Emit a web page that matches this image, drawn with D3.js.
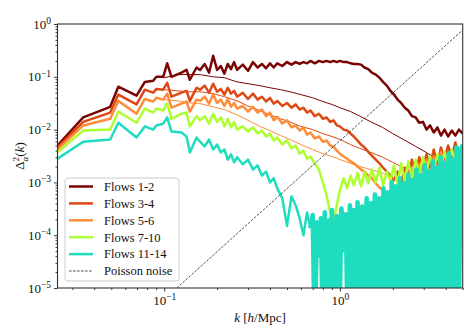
<!DOCTYPE html>
<html lang="en">
<head>
<meta charset="UTF-8">
<title>Flow power spectra</title>
<script src="https://d3js.org/d3.v7.min.js"></script>
<style>
  body { margin: 0; background: #fff; }
  svg { font-family: "Liberation Serif", "DejaVu Serif", serif; }
</style>
</head>
<body>
<div id="chart"></div>
<script>
// k grid shared by the thick (noisy) curves
const kGrid = [0.0247, 0.0346, 0.0493, 0.0548, 0.0696, 0.0776, 0.0866, 0.0903, 0.0987, 0.104, 0.110, 0.1255, 0.134, 0.140, 0.1528,
  0.16, 0.17, 0.18, 0.19, 0.20, 0.21, 0.22, 0.23, 0.24, 0.25, 0.26,
  0.28, 0.30, 0.32, 0.34, 0.36, 0.38, 0.40, 0.42, 0.44,
  0.47, 0.50, 0.53, 0.56, 0.59, 0.62, 0.65, 0.68,
  0.72, 0.76, 0.80, 0.84, 0.88, 0.92, 0.96, 1.00,
  1.05, 1.10, 1.15, 1.20,
  1.26, 1.32, 1.38, 1.45, 1.52, 1.60, 1.68, 1.76, 1.85, 1.94,
  2.03, 2.13, 2.23, 2.34, 2.45, 2.57, 2.70, 2.83, 2.97,
  3.11, 3.26, 3.42, 3.59, 3.76, 3.94, 4.13, 4.33, 4.54, 4.76, 5.00];

// k grid for the thin (smooth) curves
const kThin = [0.10, 0.12, 0.14, 0.16, 0.19, 0.22, 0.26, 0.30, 0.35, 0.40, 0.46, 0.52, 0.60, 0.70,
  0.80, 0.90, 1.0, 1.15, 1.3, 1.5, 1.75, 2.0, 2.3, 2.7, 3.1, 3.6, 4.2, 5.0];

// dense k values for the high-k tail of flows 11-14
const kTealTail = [0.70, 0.72, 0.74, 0.76, 0.78, 0.80, 0.82, 0.84, 0.86, 0.88, 0.90,
  0.93, 0.96, 0.99, 1.02, 1.05, 1.08, 1.11, 1.14, 1.17, 1.20, 1.23, 1.26,
  1.30, 1.34, 1.38, 1.42, 1.46, 1.50, 1.54, 1.58, 1.62,
  1.67, 1.72, 1.77, 1.82, 1.87, 1.92, 1.97, 2.02,
  2.08, 2.14, 2.20, 2.26, 2.32, 2.38, 2.45, 2.52, 2.59, 2.66, 2.73, 2.80,
  2.88, 2.96, 3.04, 3.12, 3.20, 3.29, 3.38, 3.47, 3.56, 3.65,
  3.75, 3.85, 3.95, 4.05, 4.16, 4.27, 4.38, 4.50, 4.62, 4.74, 4.87, 5.00];

const flows12 = [5.0e-3, 1.7e-2, 2.7e-2, 6.5e-2, 4.4e-2, 8.0e-2, 8.4e-2, 1.0e-1, 1.0e-1, 1.8e-1, 1.0e-1, 1.2e-1, 1.35e-1, 8.8e-2, 1.5e-1,
  1.35e-1, 1.75e-1, 1.2e-1, 2.5e-1, 1.35e-1, 1.6e-1, 1.15e-1, 1.75e-1, 1.4e-1, 1.9e-1, 1.35e-1,
  1.7e-1, 1.3e-1, 1.9e-1, 1.5e-1, 1.75e-1, 1.45e-1, 1.8e-1, 1.5e-1, 1.8e-1,
  1.6e-1, 1.9e-1, 1.7e-1, 1.9e-1, 1.75e-1, 1.9e-1, 1.8e-1, 2.0e-1,
  1.8e-1, 2.0e-1, 1.9e-1, 2.0e-1, 1.9e-1, 2.0e-1, 1.9e-1, 2.0e-1,
  1.9e-1, 1.9e-1, 1.8e-1, 1.75e-1,
  1.75e-1, 1.7e-1, 1.5e-1, 1.4e-1, 1.2e-1, 1.1e-1, 9.6e-2, 8.0e-2, 6.8e-2, 5.4e-2,
  4.6e-2, 3.7e-2, 3.2e-2, 2.6e-2, 2.3e-2, 1.8e-2, 1.7e-2, 1.35e-2, 1.4e-2,
  1.0e-2, 1.2e-2, 8.8e-3, 1.1e-2, 7.7e-3, 1.0e-2, 7.4e-3, 9.6e-3, 7.7e-3, 1.0e-2, 8.4e-3];

const flows12Thin = [9.6e-2, 1.1e-1, 1.1e-1, 1.1e-1, 1.0e-1, 9.6e-2, 8.0e-2, 7.4e-2, 6.8e-2, 6.2e-2, 5.7e-2, 5.2e-2, 4.6e-2, 4.0e-2,
  3.4e-2, 3.0e-2, 2.6e-2, 2.2e-2, 1.8e-2, 1.4e-2, 1.1e-2, 8.4e-3, 6.5e-3, 4.8e-3, 3.7e-3, 2.7e-3, 2.1e-3, 1.6e-3];

const flows34 = [4.6e-3, 1.4e-2, 2.1e-2, 4.6e-2, 3.0e-2, 5.7e-2, 5.0e-2, 5.9e-2, 5.7e-2, 7.7e-2, 4.2e-2, 5.0e-2, 5.4e-2, 3.5e-2, 6.2e-2,
  5.7e-2, 6.8e-2, 5.0e-2, 7.4e-2, 5.2e-2, 5.9e-2, 4.6e-2, 6.2e-2, 4.8e-2, 5.4e-2, 4.2e-2,
  5.0e-2, 3.8e-2, 4.8e-2, 3.7e-2, 4.2e-2, 3.4e-2, 4.0e-2, 3.1e-2, 3.5e-2,
  2.8e-2, 3.2e-2, 2.6e-2, 3.0e-2, 2.4e-2, 2.6e-2, 2.1e-2, 2.3e-2,
  1.8e-2, 2.0e-2, 1.6e-2, 1.7e-2, 1.4e-2, 1.5e-2, 1.2e-2, 1.15e-2,
  1.0e-2, 9.6e-3, 8.4e-3, 7.4e-3,
  6.2e-3, 5.2e-3, 4.6e-3, 3.8e-3, 3.2e-3, 2.7e-3, 2.3e-3, 1.9e-3, 1.6e-3, 1.35e-3,
  1.1e-3, 1.6e-3, 9.2e-4, 1.9e-3, 1.2e-3, 2.7e-3, 1.4e-3, 3.0e-3, 1.75e-3,
  3.4e-3, 1.9e-3, 4.2e-3, 2.2e-3, 4.6e-3, 2.7e-3, 5.0e-3, 3.0e-3, 5.7e-3, 3.2e-3, 5.2e-3];

const flows34Thin = [5.7e-2, 5.4e-2, 5.2e-2, 5.2e-2, 4.8e-2, 4.2e-2, 3.5e-2, 2.8e-2, 2.3e-2, 1.9e-2, 1.6e-2, 1.4e-2, 1.15e-2, 1.0e-2,
  8.4e-3, 7.4e-3, 6.5e-3, 5.2e-3, 4.4e-3, 3.7e-3, 3.0e-3, 2.4e-3, 1.9e-3, 1.5e-3, 1.2e-3, 8.8e-4, 6.8e-4, 5.0e-4];

const flows56 = [4.2e-3, 1.2e-2, 1.6e-2, 3.5e-2, 2.0e-2, 3.8e-2, 3.4e-2, 4.0e-2, 3.7e-2, 4.8e-2, 2.6e-2, 3.1e-2, 3.4e-2, 2.2e-2, 3.7e-2,
  3.5e-2, 4.2e-2, 3.1e-2, 4.6e-2, 3.2e-2, 3.7e-2, 2.8e-2, 3.8e-2, 2.7e-2, 3.2e-2, 2.5e-2,
  2.8e-2, 2.2e-2, 2.7e-2, 2.1e-2, 2.4e-2, 1.8e-2, 2.1e-2, 1.5e-2, 1.75e-2,
  1.3e-2, 1.5e-2, 1.1e-2, 1.2e-2, 9.6e-3, 1.1e-2, 8.0e-3, 8.8e-3,
  6.8e-3, 7.4e-3, 5.9e-3, 6.2e-3, 5.0e-3, 4.8e-3, 4.0e-3, 3.5e-3,
  3.1e-3, 2.8e-3, 2.5e-3, 2.3e-3,
  2.0e-3, 1.75e-3, 1.6e-3, 1.35e-3, 1.2e-3, 9.6e-4, 8.0e-4, 7.1e-4, 5.9e-4, 5.2e-4,
  4.6e-4, 8.4e-4, 3.7e-4, 1.2e-3, 5.4e-4, 1.75e-3, 7.1e-4, 2.2e-3, 8.8e-4,
  2.7e-3, 1.0e-3, 3.1e-3, 1.4e-3, 3.8e-3, 1.75e-3, 3.4e-3, 1.9e-3, 4.2e-3, 2.4e-3, 3.8e-3];

const flows56Thin = [3.7e-2, 3.5e-2, 3.2e-2, 3.1e-2, 2.7e-2, 2.4e-2, 1.9e-2, 1.5e-2, 1.15e-2, 9.6e-3, 7.7e-3, 6.5e-3, 5.2e-3, 4.2e-3,
  3.5e-3, 3.1e-3, 2.7e-3, 2.3e-3, 2.0e-3, 1.75e-3, 1.5e-3, 1.2e-3, 9.6e-4, 7.7e-4, 6.2e-4, 5.0e-4, 3.8e-4, 3.0e-4];

const flows710 = [3.7e-3, 9.6e-3, 1.0e-2, 2.2e-2, 1.35e-2, 2.5e-2, 2.1e-2, 2.5e-2, 2.3e-2, 3.1e-2, 1.6e-2, 2.0e-2, 2.1e-2, 1.15e-2, 1.8e-2,
  1.5e-2, 1.8e-2, 1.3e-2, 2.0e-2, 1.4e-2, 1.7e-2, 1.15e-2, 1.6e-2, 1.1e-2, 1.4e-2, 1.0e-2,
  1.15e-2, 9.2e-3, 1.1e-2, 8.4e-3, 9.6e-3, 7.4e-3, 8.4e-3, 6.2e-3, 7.1e-3,
  5.2e-3, 6.2e-3, 4.4e-3, 5.0e-3, 3.5e-3, 4.0e-3, 2.8e-3, 3.1e-3,
  2.3e-3, 1.75e-3, 1.0e-3, 5.7e-4, 2.7e-4, 1.75e-4, 3.7e-4, 7.1e-4,
  1.2e-3, 7.7e-4, 1.35e-3, 8.8e-4,
  1.5e-3, 8.4e-4, 1.6e-3, 9.6e-4, 1.75e-3, 1.0e-3, 1.9e-3, 8.8e-4, 1.6e-3, 1.1e-3,
  2.1e-3, 9.2e-4, 2.3e-3, 1.1e-3, 2.5e-3, 1.2e-3, 2.7e-3, 1.4e-3, 3.0e-3,
  1.6e-3, 3.1e-3, 1.75e-3, 3.4e-3, 1.9e-3, 3.8e-3, 2.1e-3, 4.2e-3, 2.5e-3, 4.6e-3, 3.0e-3];

// first 43 values sit on kGrid (up to k = 0.68), the rest on kTealTail
const flows1114 = [2.8e-3, 5.9e-3, 6.5e-3, 1.35e-2, 7.1e-3, 1.15e-2, 1.0e-2, 1.2e-2, 1.3e-2, 1.7e-2, 9.2e-3, 8.8e-3, 7.4e-3, 3.7e-3, 7.1e-3,
  5.9e-3, 4.8e-3, 6.5e-3, 4.2e-3, 5.2e-3, 3.7e-3, 4.2e-3, 2.7e-3, 3.4e-3, 2.4e-3, 3.0e-3,
  2.2e-3, 2.7e-3, 1.75e-3, 2.1e-3, 1.35e-3, 1.6e-3, 1.0e-3, 1.2e-3, 7.7e-4,
  5.0e-4, 1.5e-4, 5.4e-4, 3.7e-4, 2.1e-4, 1.0e-4, 2.7e-4, 1.35e-4,
  2.4e-4, 1e-6, 1.75e-4, 4.2e-5, 2.1e-4, 1e-6, 2.7e-4, 1e-6, 1.9e-4, 1e-6, 3.0e-4,
  1e-6, 2.3e-4, 1e-6, 3.2e-4, 5.2e-5, 2.5e-4, 1e-6, 3.7e-4, 1e-6, 3.0e-4, 1e-6, 4.2e-4,
  1e-6, 3.5e-4, 1e-6, 5.0e-4, 1e-6, 4.0e-4, 1e-6, 5.9e-4, 1e-6,
  5.0e-4, 1e-6, 7.7e-4, 1e-6, 6.5e-4, 1e-6, 1.0e-3, 1e-6,
  8.4e-4, 1e-6, 1.2e-3, 1e-6, 9.6e-4, 1e-6, 1.4e-3, 1e-6, 1.1e-3, 1e-6, 1.75e-3, 1e-6,
  1.35e-3, 1e-6, 2.1e-3, 1e-6, 1.6e-3,
  1e-6, 2.5e-3, 1e-6, 1.9e-3, 1e-6,
  3.0e-3, 1e-6, 2.3e-3, 1e-6, 3.5e-3, 1e-6, 2.7e-3,
  1e-6, 4.6e-3, 1e-6, 3.8e-3, 5.2e-3];

const poissonK = [0.118, 5.0];
const poissonV = [1e-5, 0.77];

const legendLabels = ["Flows 1-2", "Flows 3-4", "Flows 5-6", "Flows 7-10", "Flows 11-14", "Poisson noise"];
const colors = ["#7a0403", "#dd4814", "#fe8c38", "#adff2f", "#1edcbe"];
const yTickExp = [0, -1, -2, -3, -4, -5];
const xTickExp = [-1, 0];

// layout
const width = 471, height = 325;
const plotLeft = 57.5, plotRight = 462.7, plotTop = 24, plotBottom = 288;

const svg = d3.select("#chart").append("svg")
    .attr("width", width)
    .attr("height", height);

const x = d3.scaleLog().domain([0.0247, 5]).range([plotLeft, plotRight]);
const y = d3.scaleLog().domain([1e-5, 1]).range([plotBottom, plotTop]);

svg.append("clipPath").attr("id", "plotclip")
  .append("rect")
    .attr("x", plotLeft).attr("y", plotTop)
    .attr("width", plotRight - plotLeft).attr("height", plotBottom - plotTop);

const plot = svg.append("g").attr("clip-path", "url(#plotclip)");

const line = d3.line().x(d => x(d[0])).y(d => y(d[1]));

function drawLine(ks, vs, color, w) {
    plot.append("path")
        .datum(ks.map((k, i) => [k, vs[i]]))
        .attr("fill", "none")
        .attr("stroke", color)
        .attr("stroke-width", w)
        .attr("stroke-linejoin", "round")
        .attr("d", line);
}

drawLine(kGrid, flows12, colors[0], 2.5);
drawLine(kThin, flows12Thin, colors[0], 1);
drawLine(kGrid, flows34, colors[1], 2.5);
drawLine(kThin, flows34Thin, colors[1], 1);
drawLine(kGrid, flows56, colors[2], 2.5);
drawLine(kThin, flows56Thin, colors[2], 1);
drawLine(kGrid, flows710, colors[3], 2.5);

// flows 11-14: the dense, spiky high-k part is stroked wider so it reads as a solid band
const kTeal = kGrid.slice(0, 43).concat(kTealTail);
drawLine(kTeal.slice(0, 43), flows1114.slice(0, 43), colors[4], 2.5);
drawLine(kTeal.slice(42), flows1114.slice(42), colors[4], 4.6);

// Poisson noise
plot.append("path")
    .datum(poissonK.map((k, i) => [k, poissonV[i]]))
    .attr("fill", "none")
    .attr("stroke", "#222")
    .attr("stroke-width", 0.8)
    .attr("stroke-dasharray", "2.6,1.4")
    .attr("d", line);

// axes
function supLabel(sel, exp) {
    sel.text(null);
    sel.append("tspan").text("10");
    sel.append("tspan")
        .attr("dy", "-0.5em")
        .attr("font-size", "9.5px")
        .text(exp < 0 ? "\u2212" + (-exp) : exp);
}

const yAxis = svg.append("g")
    .attr("transform", `translate(${plotLeft},0)`)
    .call(d3.axisLeft(y).tickValues(yTickExp.map(e => Math.pow(10, e))).tickSize(3.5).tickPadding(3));
yAxis.selectAll(".tick text").each(function(d, i) {
    supLabel(d3.select(this), yTickExp[i]);
});

const yMinor = y.ticks().filter(v => Math.abs(Math.log10(v) - Math.round(Math.log10(v))) > 1e-6);
svg.append("g")
    .attr("transform", `translate(${plotLeft},0)`)
    .call(d3.axisLeft(y).tickValues(yMinor).tickSize(2).tickFormat(""));

const xAxis = svg.append("g")
    .attr("transform", `translate(0,${plotBottom})`)
    .call(d3.axisBottom(x).tickValues(xTickExp.map(e => Math.pow(10, e))).tickSize(3.5).tickPadding(4));
xAxis.selectAll(".tick text").each(function(d, i) {
    supLabel(d3.select(this), xTickExp[i]);
});

const xMinor = x.ticks().filter(v => v > 0.0247 && Math.abs(Math.log10(v) - Math.round(Math.log10(v))) > 1e-6);
svg.append("g")
    .attr("transform", `translate(0,${plotBottom})`)
    .call(d3.axisBottom(x).tickValues(xMinor).tickSize(2).tickFormat(""));

svg.selectAll(".domain").remove();
svg.selectAll(".tick line").attr("stroke", "#222").attr("stroke-width", 0.9);
svg.selectAll(".tick text")
    .attr("font-family", "Liberation Serif, DejaVu Serif, serif")
    .attr("font-size", "13px")
    .attr("fill", "#111");

// frame
svg.append("rect")
    .attr("x", plotLeft).attr("y", plotTop)
    .attr("width", plotRight - plotLeft).attr("height", plotBottom - plotTop)
    .attr("fill", "none")
    .attr("stroke", "#333")
    .attr("stroke-width", 1.1);

// axis labels
const xLab = svg.append("text")
    .attr("x", 260).attr("y", 322)
    .attr("text-anchor", "middle")
    .attr("font-size", "13px")
    .attr("fill", "#111");
xLab.append("tspan").attr("font-style", "italic").text("k");
xLab.append("tspan").text(" [");
xLab.append("tspan").attr("font-style", "italic").text("h");
xLab.append("tspan").text("/Mpc]");

const yLab = svg.append("text")
    .attr("transform", "translate(24,156) rotate(-90)")
    .attr("text-anchor", "middle")
    .attr("font-size", "13px")
    .attr("fill", "#111");
yLab.append("tspan").text("\u0394");
yLab.append("tspan").attr("font-size", "9px").attr("dy", -5).text("2");
yLab.append("tspan").attr("font-size", "9px").attr("font-style", "italic").attr("dx", -4.5).attr("dy", 9).text("\u03b1");
yLab.append("tspan").attr("dy", -4).text("(");
yLab.append("tspan").attr("font-style", "italic").text("k");
yLab.append("tspan").text(")");

// legend
const legend = svg.append("g");
legend.append("rect")
    .attr("x", 65).attr("y", 178)
    .attr("width", 114).attr("height", 103)
    .attr("rx", 3)
    .attr("fill", "#fff").attr("fill-opacity", 0.8)
    .attr("stroke", "#ccc").attr("stroke-width", 1);

legendLabels.forEach((label, i) => {
    const cy = 186.5 + i * 16.9;
    const sample = legend.append("line")
        .attr("x1", 69).attr("x2", 93)
        .attr("y1", cy).attr("y2", cy);
    if (i < colors.length) {
        sample.attr("stroke", colors[i]).attr("stroke-width", 2.5);
    } else {
        sample.attr("stroke", "#222").attr("stroke-width", 0.8).attr("stroke-dasharray", "2.6,1.4");
    }
    legend.append("text")
        .attr("x", 104).attr("y", cy)
        .attr("dy", "0.35em")
        .attr("font-size", "12.5px")
        .attr("fill", "#111")
        .text(label);
});
</script>
</body>
</html>
